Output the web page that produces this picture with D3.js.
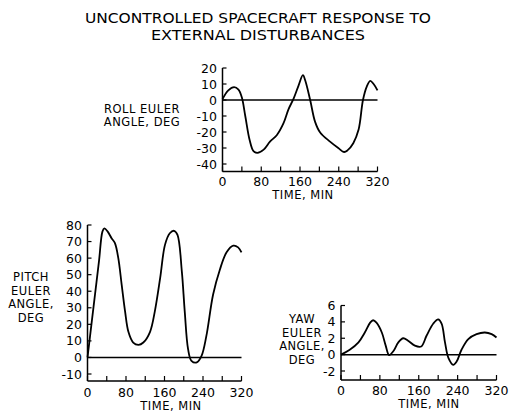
<!DOCTYPE html>
<html>
<head>
<meta charset="utf-8">
<script src="https://cdn.jsdelivr.net/npm/d3@7"></script>
<style>
  body { margin: 0; background: #fff; }
  svg text { font-family: "DejaVu Sans", sans-serif; fill: #000; }
</style>
</head>
<body>
<svg id="chart" width="520" height="416"></svg>
<script>
// titulo y etiquetas
const titleLines = ['UNCONTROLLED SPACECRAFT RESPONSE TO', 'EXTERNAL DISTURBANCES'];
const titleWidths = [346, 214];
const timeTicks = [0, 40, 80, 120, 160, 200, 240, 280, 320];
const timeLabels = [0, 80, 160, 240, 320];

// roll
const rollTime = [0, 12, 24, 33, 40, 47, 56, 64, 72, 85, 98, 112, 126, 136, 147, 157, 166, 171, 181, 191, 202, 222, 239, 251, 258, 270, 281, 290, 298, 305, 312, 320];
const rollDeg = [0.5, 6, 8, 6.5, 1.5, -10, -25, -32, -33, -31, -26, -22, -14.5, -6, 1, 9, 15.5, 12, 0, -13.5, -20.5, -26, -30, -32.5, -31.5, -27, -18.5, 0, 8.5, 12, 10, 6];
const rollTicks = [20, 10, 0, -10, -20, -30, -40];

// pitch
const pitchTime = [0, 8, 16, 24, 31, 35, 42, 50, 57, 64, 71, 78, 85, 95, 106, 116, 130, 140, 151, 161, 171, 180, 187, 196, 202, 209, 216, 227, 237, 247, 261, 275, 289, 303, 313, 320];
const pitchDeg = [0, 19.5, 39, 58.5, 76, 78, 76, 72, 69, 60, 44, 28, 15.5, 9, 7.6, 9, 15.5, 28, 48, 68, 75, 76.5, 74, 52, 28, 5, -2, -3, 1, 13, 38, 53, 63.5, 67.5, 66.5, 63.5];
const pitchTicks = [80, 70, 60, 50, 40, 30, 20, 10, 0, -10];

// yaw
const yawTime = [0, 18, 36, 49, 60, 66, 73, 84, 92, 99, 108, 118, 128, 138, 152, 165, 176, 190, 200, 207, 214, 221, 231, 238, 248, 262, 279, 296, 310, 320];
const yawDeg = [0, 0.6, 1.5, 2.7, 3.9, 4.2, 3.9, 2.7, 1.1, -0.05, 0.45, 1.5, 2, 1.7, 1.1, 1, 2.3, 3.8, 4.3, 3.8, 1.5, -0.4, -1.25, -0.85, 0.6, 1.9, 2.5, 2.7, 2.5, 2.1];
const yawTicks = [6, 4, 2, 0, -2];

const svg = d3.select('#chart');

// titulo
svg.selectAll('.titulo')
  .data(titleLines)
  .enter()
  .append('text')
  .attr('x', 258)
  .attr('y', (d, i) => 23 + i * 17)
  .attr('text-anchor', 'middle')
  .attr('font-size', 14)
  .attr('textLength', (d, i) => titleWidths[i])
  .attr('lengthAdjust', 'spacingAndGlyphs')
  .text(d => d);

const paneles = [
  { time: rollTime, deg: rollDeg, ticks: rollTicks, x0: 222.5, x1: 377.5, yTop: 68, yLow: 164, minV: -40, bottom: 171.5,
    label: ['ROLL EULER', 'ANGLE, DEG'], lx: 142, ly: 112.5, timeX: 303, timeY: 199, tickY: 186 },
  { time: pitchTime, deg: pitchDeg, ticks: pitchTicks, x0: 87.5, x1: 241.5, yTop: 225, yLow: 374, minV: -10, bottom: 381,
    label: ['PITCH', 'EULER', 'ANGLE,', 'DEG'], lx: 31, ly: 281, timeX: 171, timeY: 410, tickY: 397 },
  { time: yawTime, deg: yawDeg, ticks: yawTicks, x0: 341, x1: 496.5, yTop: 305.5, yLow: 371, minV: -2, bottom: 380,
    label: ['YAW', 'EULER', 'ANGLE,', 'DEG'], lx: 302, ly: 323, timeX: 429, timeY: 408, tickY: 395 }
];

paneles.forEach(p => {
  const x = d3.scaleLinear().domain([0, 320]).range([p.x0, p.x1]);
  const y = d3.scaleLinear().domain([p.minV, p.ticks[0]]).range([p.yLow, p.yTop]);
  const g = svg.append('g');

  // ejes
  g.append('line')
    .attr('x1', p.x0).attr('x2', p.x0)
    .attr('y1', p.yTop).attr('y2', p.bottom)
    .attr('stroke', '#000').attr('stroke-width', 1.5);
  g.append('line')
    .attr('x1', p.x0).attr('x2', p.x1)
    .attr('y1', p.bottom).attr('y2', p.bottom)
    .attr('stroke', '#000').attr('stroke-width', 1.5);

  // marcas eje y
  p.ticks.forEach(t => {
    g.append('line')
      .attr('x1', p.x0).attr('x2', p.x0 + 4)
      .attr('y1', y(t)).attr('y2', y(t))
      .attr('stroke', '#000').attr('stroke-width', 1.2);
    g.append('text')
      .attr('x', p.x0 - 5.5)
      .attr('y', y(t))
      .attr('dy', '0.36em')
      .attr('text-anchor', 'end')
      .attr('font-size', 12.5)
      .text(t);
  });

  // marcas eje x
  timeTicks.forEach(t => {
    g.append('line')
      .attr('x1', x(t)).attr('x2', x(t))
      .attr('y1', p.bottom).attr('y2', p.bottom - 5)
      .attr('stroke', '#000').attr('stroke-width', 1.2);
  });
  timeLabels.forEach(t => {
    g.append('text')
      .attr('x', x(t))
      .attr('y', p.tickY)
      .attr('text-anchor', 'middle')
      .attr('font-size', 12.5)
      .text(t);
  });
  g.append('text')
    .attr('x', p.timeX)
    .attr('y', p.timeY)
    .attr('text-anchor', 'middle')
    .attr('font-size', 11.5)
    .attr('letter-spacing', 0.5)
    .text('TIME, MIN');

  // etiqueta del eje
  p.label.forEach((l, i) => {
    g.append('text')
      .attr('x', p.lx)
      .attr('y', p.ly + i * 13.6)
      .attr('text-anchor', 'middle')
      .attr('font-size', 11.5)
      .attr('letter-spacing', 0.5)
      .text(l);
  });

  // linea cero
  g.append('line')
    .attr('x1', x(0)).attr('x2', x(320))
    .attr('y1', y(0)).attr('y2', y(0))
    .attr('stroke', '#000').attr('stroke-width', 1.5);

  // curva
  const puntos = p.time.map((t, i) => [t, p.deg[i]]);
  const linea = d3.line()
    .x(d => x(d[0]))
    .y(d => y(d[1]))
    .curve(d3.curveCatmullRom.alpha(0.5));
  g.append('path')
    .datum(puntos)
    .attr('d', linea)
    .attr('fill', 'none')
    .attr('stroke', '#000')
    .attr('stroke-width', 1.8);
});
</script>
</body>
</html>
